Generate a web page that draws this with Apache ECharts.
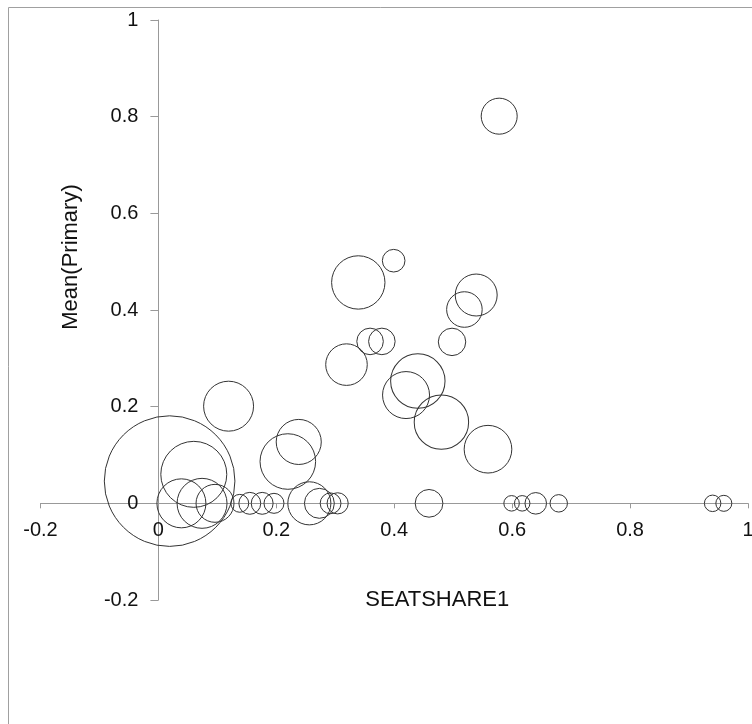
<!DOCTYPE html>
<html>
<head>
<meta charset="utf-8">
<script src="https://cdn.jsdelivr.net/npm/echarts@6/dist/echarts.min.js"></script>
<style>html,body{margin:0;padding:0;background:#fff;}#c{width:752px;height:724px;}</style>
</head>
<body>
<div id="c"></div>
<script>
// SEATSHARE1 (x), Mean(Primary) (y), bubble weight (area)
var seatShare = [0.578,0.399,0.339,0.539,0.519,0.498,0.359,0.379,0.319,0.440,0.420,0.480,0.559,0.459,0.599,0.617,0.640,0.679,0.940,0.959,0.019,0.119,0.060,0.039,0.074,0.096,0.138,0.155,0.176,0.196,0.238,0.2195,0.256,0.273,0.292,0.304];
var meanPrimary = [0.801,0.502,0.457,0.431,0.401,0.334,0.335,0.335,0.287,0.253,0.224,0.168,0.112,0,0,0,0,0,0,0,0.046,0.201,0.060,0,0,0,0,0,0,0,0.127,0.0865,0,0,0,0];
var weight = [81,32,178,110,79,47,44,44,108,185,138,185,142,48,15,15,29,19,17,16,1066,156,272,150,156,90,20,30,30,25,127,193,116,56,27,28];
var xTicks = [-0.2,0,0.2,0.4,0.6,0.8,1];
var yTicks = [-0.2,0,0.2,0.4,0.6,0.8,1];

var W = 752, H = 724;
var G = {left:40.5, right:4, top:20, bottom:124};
var xMin = xTicks[0], xMax = xTicks[xTicks.length-1];
var yMin = yTicks[0], yMax = yTicks[yTicks.length-1];
var gw = W - G.left - G.right, gh = H - G.top - G.bottom;
// place each axis on the other's zero line (line, ticks and labels together)
var xAxisOffset = -((0 - yMin) / (yMax - yMin)) * gh;
var yAxisOffset = -((0 - xMin) / (xMax - xMin)) * gw;

var data = seatShare.map(function(x,i){return [x, meanPrimary[i], weight[i]];});
var chart = echarts.init(document.getElementById('c'), null, {renderer:'canvas'});
var font = '"Liberation Sans", Arial, sans-serif';
function fmt(v){return String(Math.round(v*10)/10);}
chart.setOption({
  animation:false,
  backgroundColor:'#fff',
  graphic:[{type:'rect', shape:{x:8.5,y:7.5,width:900,height:900}, style:{fill:'none', stroke:'#a0a0a0', lineWidth:1}, silent:true, z:-1}],
  grid:{left:G.left, right:G.right, top:G.top, bottom:G.bottom, containLabel:false, outerBoundsMode:'none'},
  xAxis:{
    type:'value', min:xMin, max:xMax, interval:0.2, position:'bottom', offset:xAxisOffset,
    name:'SEATSHARE1', nameLocation:'middle', nameGap:86,
    nameTextStyle:{fontFamily:font, fontSize:22, color:'#111', padding:[0,0,0,86]},
    axisLine:{onZero:false, lineStyle:{color:'#999', width:1}},
    axisTick:{show:true, length:5, lineStyle:{color:'#999'}},
    axisLabel:{fontFamily:font, fontSize:20, color:'#111', margin:17, showMinLabel:true, showMaxLabel:true, hideOverlap:false, formatter:fmt},
    splitLine:{show:false}
  },
  yAxis:{
    type:'value', min:yMin, max:yMax, interval:0.2, position:'left', offset:yAxisOffset,
    name:'Mean(Primary)', nameLocation:'middle', nameGap:76,
    nameTextStyle:{fontFamily:font, fontSize:22, color:'#111', padding:[0,0,0,106]},
    axisLine:{onZero:false, lineStyle:{color:'#999', width:1}},
    axisTick:{show:true, length:8, lineStyle:{color:'#999'}},
    axisLabel:{fontFamily:font, fontSize:20, color:'#111', margin:20, showMinLabel:true, showMaxLabel:true, hideOverlap:false, formatter:fmt},
    splitLine:{show:false}
  },
  series:[{
    type:'scatter',
    data:data,
    symbol:'circle',
    symbolSize:function(v){return Math.sqrt(v[2])*4;},
    itemStyle:{color:'rgba(0,0,0,0)', borderColor:'#333', borderWidth:1, opacity:1},
    emphasis:{disabled:true},
    clip:false
  }]
});
</script>
</body>
</html>
